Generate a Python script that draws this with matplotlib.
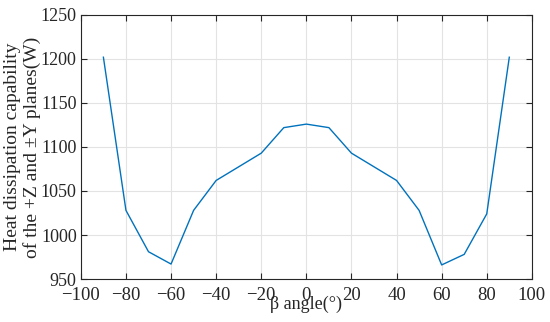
import matplotlib
matplotlib.use('Agg')
import matplotlib.pyplot as plt

# beta angle (deg) and heat dissipation (W)
beta = [-90, -80, -70, -60, -50, -40, -20, -10, 0, 10, 20, 40, 50, 60, 70, 80, 90]
heat = [1202, 1028, 981, 967, 1028, 1062, 1093, 1122, 1126, 1122, 1093, 1062, 1028, 966, 978, 1024, 1202]

xticks = list(range(-100, 101, 20))
yticks = list(range(950, 1251, 50))

plt.rcParams['font.family'] = ['Liberation Serif', 'DejaVu Serif']

fig = plt.figure(figsize=(5.5, 3.22), dpi=100)
ax = fig.add_axes([0.147, 0.1335, 0.82, 0.82])
ax.plot(beta, heat, color='#0072BD', lw=1.0)

ax.set_xlim(-100, 100)
ax.set_ylim(950, 1250)
ax.set_xticks(xticks)
ax.set_yticks(yticks)
ax.set_xticklabels([str(t).replace('-', '\u2212') for t in xticks])
ax.grid(True, color='#e3e3e3', lw=0.8)
ax.set_axisbelow(True)
ax.tick_params(direction='in', top=True, right=True, labelsize=13.5,
               colors='#262626', length=4, width=0.8)
ax.tick_params(axis='x', pad=6)
ax.tick_params(axis='y', pad=3, labelsize=13)
for s in ax.spines.values():
    s.set_color('#262626')
    s.set_linewidth(0.8)

ax.set_xlabel('\u03b2 angle(\u00b0)', fontsize=13, color='#262626')
ax.xaxis.set_label_coords(0.5, -0.065)
ax.xaxis.label.set_va('top')
ax.set_ylabel('Heat dissipation capability\nof the +Z and \u00b1Y planes(W)',
              fontsize=14, color='#262626', linespacing=1.15)
ax.yaxis.set_label_coords(-0.088, 0.5)

fig.savefig('out.png', dpi=100)
